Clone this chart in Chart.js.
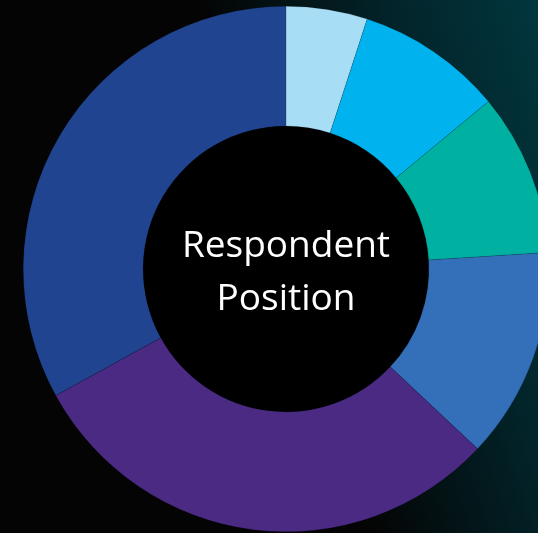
<!DOCTYPE html>
<html>
<head>
<meta charset="utf-8">
<script src="https://cdn.jsdelivr.net/npm/chart.js@4/dist/chart.umd.min.js"></script>
<style>
  html, body { margin: 0; padding: 0; width: 538px; height: 533px; overflow: hidden; }
  body { background: linear-gradient(72deg, #040404 0%, #040404 52%, #02252b 80%, #02363e 100%); position: relative; }
  #wrap { position: absolute; left: 0; top: 0; width: 572px; height: 538px; }
</style>
</head>
<body>
<div id="wrap"><canvas id="chart"></canvas></div>
<script>
// Share of respondents by position
const positions = ['Executive', 'Senior Manager', 'Manager', 'Specialist', 'Staff', 'Other'];
const shares = [5, 9, 10, 13, 30, 33];
const sliceColors = ['#a8ddf6', '#00b3ef', '#00b0a1', '#3370b9', '#4b2a83', '#20448f'];
const centerLines = ['Respondent', 'Position'];

// Fills the doughnut hole in black and writes the title in it
const centerPlugin = {
  id: 'centerTitle',
  beforeDatasetsDraw(chart) {
    const arc = chart.getDatasetMeta(0).data[0];
    if (!arc) return;
    const { x, y, innerRadius } = arc.getProps(['x', 'y', 'innerRadius'], true);
    const ctx = chart.ctx;
    ctx.save();
    ctx.beginPath();
    ctx.arc(x, y, innerRadius + 0.5, 0, Math.PI * 2);
    ctx.fillStyle = '#000000';
    ctx.fill();
    ctx.restore();
  },
  afterDraw(chart) {
    const arc = chart.getDatasetMeta(0).data[0];
    if (!arc) return;
    const { x, y } = arc.getProps(['x', 'y'], true);
    const ctx = chart.ctx;
    ctx.save();
    ctx.fillStyle = '#ffffff';
    ctx.font = '37px "Open Sans", "Noto Sans", sans-serif';
    ctx.textAlign = 'center';
    ctx.textBaseline = 'alphabetic';
    ctx.fillText(centerLines[0], x, y - 12);
    ctx.fillText(centerLines[1], x, y + 41);
    ctx.restore();
  }
};

new Chart(document.getElementById('chart'), {
  type: 'doughnut',
  data: {
    labels: positions,
    datasets: [{
      data: shares,
      backgroundColor: sliceColors,
      borderColor: 'rgba(0,0,0,0.25)',
      borderWidth: 0.5,
      hoverOffset: 0
    }]
  },
  options: {
    responsive: true,
    maintainAspectRatio: false,
    animation: false,
    cutout: '54.4%',
    layout: { padding: 6 },
    plugins: {
      legend: { display: false },
      tooltip: { enabled: false }
    }
  },
  plugins: [centerPlugin]
});
</script>
</body>
</html>
